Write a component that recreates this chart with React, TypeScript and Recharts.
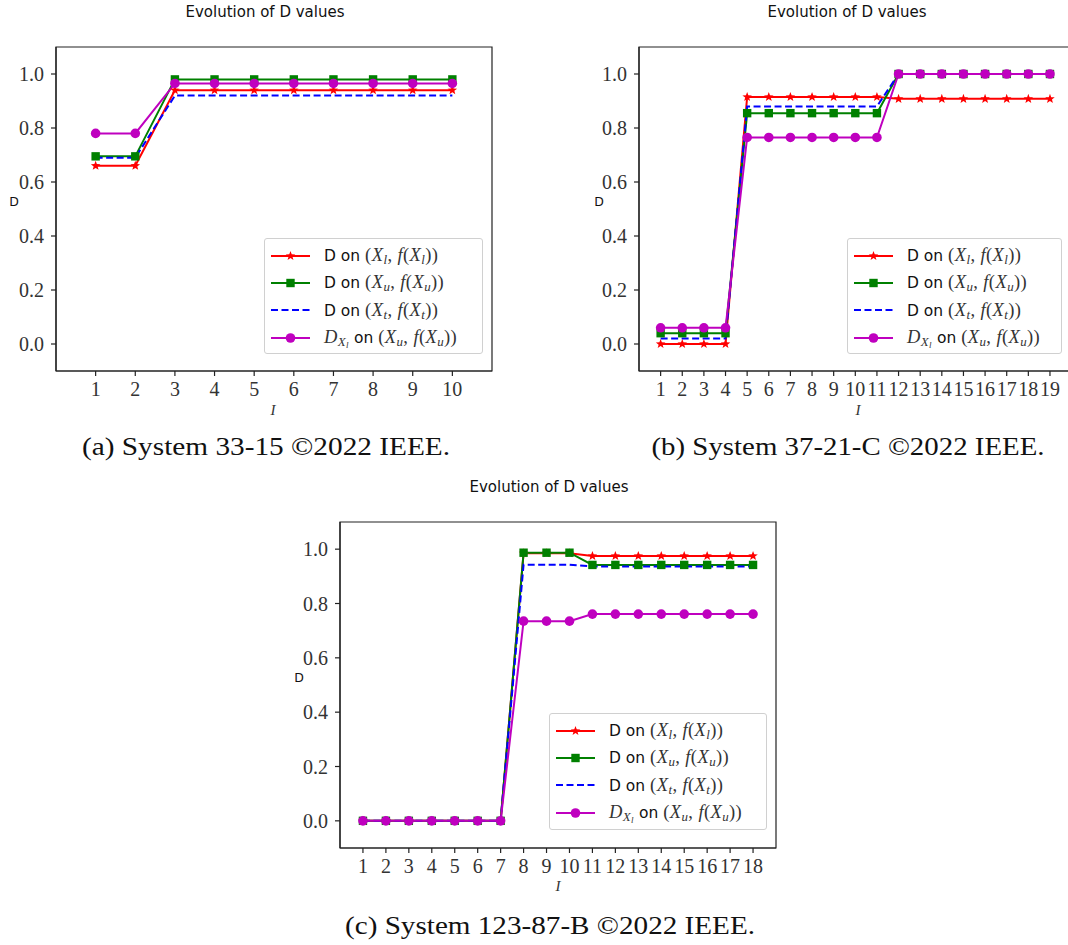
import React from "react";
import { LineChart, Line, XAxis, YAxis, Legend, ReferenceArea } from "recharts";

// (a) System 33-15
const iterA = [1, 2, 3, 4, 5, 6, 7, 8, 9, 10];
const aXl = [0.66, 0.66, 0.94, 0.94, 0.94, 0.94, 0.94, 0.94, 0.94, 0.94];
const aXu = [0.695, 0.695, 0.98, 0.98, 0.98, 0.98, 0.98, 0.98, 0.98, 0.98];
const aXt = [0.69, 0.69, 0.92, 0.92, 0.92, 0.92, 0.92, 0.92, 0.92, 0.92];
const aDxl = [0.78, 0.78, 0.965, 0.965, 0.965, 0.965, 0.965, 0.965, 0.965, 0.965];

// (b) System 37-21-C
const iterB = [1, 2, 3, 4, 5, 6, 7, 8, 9, 10, 11, 12, 13, 14, 15, 16, 17, 18, 19];
const bXl = [0, 0, 0, 0, 0.915, 0.915, 0.915, 0.915, 0.915, 0.915, 0.915, 0.908, 0.908, 0.908, 0.908, 0.908, 0.908, 0.908, 0.908];
const bXu = [0.04, 0.04, 0.04, 0.04, 0.855, 0.855, 0.855, 0.855, 0.855, 0.855, 0.855, 1, 1, 1, 1, 1, 1, 1, 1];
const bXt = [0.02, 0.02, 0.02, 0.02, 0.88, 0.88, 0.88, 0.88, 0.88, 0.88, 0.88, 1, 1, 1, 1, 1, 1, 1, 1];
const bDxl = [0.06, 0.06, 0.06, 0.06, 0.765, 0.765, 0.765, 0.765, 0.765, 0.765, 0.765, 1, 1, 1, 1, 1, 1, 1, 1];

// (c) System 123-87-B
const iterC = [1, 2, 3, 4, 5, 6, 7, 8, 9, 10, 11, 12, 13, 14, 15, 16, 17, 18];
const cXl = [0, 0, 0, 0, 0, 0, 0, 0.985, 0.985, 0.985, 0.975, 0.975, 0.975, 0.975, 0.975, 0.975, 0.975, 0.975];
const cXu = [0, 0, 0, 0, 0, 0, 0, 0.987, 0.987, 0.987, 0.942, 0.942, 0.942, 0.942, 0.942, 0.942, 0.942, 0.942];
const cXt = [0, 0, 0, 0, 0, 0, 0, 0.943, 0.943, 0.943, 0.936, 0.936, 0.936, 0.936, 0.936, 0.936, 0.936, 0.936];
const cDxl = [0, 0, 0, 0, 0, 0, 0, 0.735, 0.735, 0.735, 0.761, 0.761, 0.761, 0.761, 0.761, 0.761, 0.761, 0.761];

const yTicks = [0, 0.2, 0.4, 0.6, 0.8, 1.0];
const yDomain: [number, number] = [-0.1, 1.1];

const RED = "#ff0000";
const GREEN = "#008000";
const BLUE = "#0000ff";
const MAGENTA = "#bf00bf";
const AXIS = "#222";
const CM = "'Liberation Serif', 'DejaVu Serif', serif";
const SANS = "'DejaVu Sans', sans-serif";

const starPath = (cx: number, cy: number, R: number) => {
  const r = R * 0.42;
  let d = "";
  for (let k = 0; k < 10; k++) {
    const rad = k % 2 === 0 ? R : r;
    const a = -Math.PI / 2 + (k * Math.PI) / 5;
    d += (k === 0 ? "M" : "L") + (cx + rad * Math.cos(a)).toFixed(2) + "," + (cy + rad * Math.sin(a)).toFixed(2);
  }
  return d + "Z";
};

const starDot = (p: any) => <path key={"s" + p.index} d={starPath(p.cx, p.cy, 5)} fill={RED} />;
const squareDot = (p: any) => <rect key={"q" + p.index} x={p.cx - 4.2} y={p.cy - 4.2} width={8.4} height={8.4} fill={GREEN} />;
const circleDot = (p: any) => <circle key={"c" + p.index} cx={p.cx} cy={p.cy} r={4.8} fill={MAGENTA} />;

const Sub = ({ children }: { children: React.ReactNode }) => (
  <sub style={{ fontSize: "0.7em", verticalAlign: "-0.25em", lineHeight: 0 }}>{children}</sub>
);

const MATH = { fontFamily: CM, fontSize: 18.5, color: "#333", letterSpacing: 0.4 };

const pair = (s: string) => (
  <span style={MATH}>
    (<i>X</i><Sub><i>{s}</i></Sub>, <i>f</i>(<i>X</i><Sub><i>{s}</i></Sub>))
  </span>
);

const legendRows = [
  { color: RED, marker: "star", dash: false, label: <><span>D on </span>{pair("l")}</> },
  { color: GREEN, marker: "square", dash: false, label: <><span>D on </span>{pair("u")}</> },
  { color: BLUE, marker: "none", dash: true, label: <><span>D on </span>{pair("t")}</> },
  {
    color: MAGENTA,
    marker: "circle",
    dash: false,
    label: (
      <>
        <span style={MATH}>
          <i>D</i><Sub><i>X</i><Sub><i>l</i></Sub></Sub>
        </span>
        <span> on </span>
        {pair("u")}
      </>
    ),
  },
];

const LegendBox = () => (
  <div
    style={{
      background: "rgba(255,255,255,0.85)",
      border: "1px solid #d0d0d0",
      borderRadius: 3,
      boxSizing: "border-box",
      padding: "3px 0 0 6px",
      height: "100%",
      fontFamily: SANS,
      fontSize: 15.5,
      color: "#111",
    }}
  >
    {legendRows.map((r, i) => (
      <div key={i} style={{ display: "flex", alignItems: "center", height: 27.3, whiteSpace: "nowrap" }}>
        <svg width={40} height={14} style={{ flexShrink: 0, marginRight: 13 }}>
          <line x1={0} y1={7} x2={39} y2={7} stroke={r.color} strokeWidth={2} strokeDasharray={r.dash ? "7 3.5" : undefined} />
          {r.marker === "star" && <path d={starPath(19.5, 7, 5)} fill={r.color} />}
          {r.marker === "square" && <rect x={15.3} y={2.8} width={8.4} height={8.4} fill={r.color} />}
          {r.marker === "circle" && <circle cx={19.5} cy={7} r={4.8} fill={r.color} />}
        </svg>
        <span>{r.label}</span>
      </div>
    ))}
  </div>
);

type PanelProps = {
  iters: number[];
  xl: number[];
  xu: number[];
  xt: number[];
  dxl: number[];
  xMax: number;
  left: number;
  top: number;
  width: number;
  height: number;
  margin: { top: number; right: number; bottom: number; left: number };
  legend: { left: number; top: number; width: number; height: number };
};

function Panel(p: PanelProps) {
  const data = p.iters.map((it, i) => ({ it, xl: p.xl[i], xu: p.xu[i], xt: p.xt[i], dxl: p.dxl[i] }));
  return (
    <div style={{ position: "absolute", left: p.left, top: p.top }}>
      <LineChart width={p.width} height={p.height} data={data} margin={p.margin}>
        <XAxis
          dataKey="it"
          type="number"
          domain={[0, p.xMax]}
          ticks={p.iters}
          interval={0}
          allowDataOverflow
          height={30}
          stroke={AXIS}
          strokeWidth={1.2}
          tickSize={5}
          tickMargin={6}
          tick={{ fontFamily: CM, fontSize: 20, fill: "#333" }}
        />
        <YAxis
          type="number"
          domain={yDomain}
          ticks={yTicks}
          interval={0}
          allowDataOverflow
          width={40}
          stroke={AXIS}
          strokeWidth={1.2}
          tickSize={5}
          tickMargin={7}
          tickFormatter={(v: number) => v.toFixed(1)}
          tick={{ fontFamily: CM, fontSize: 20, fill: "#333" }}
        />
        {/* axes frame */}
        <ReferenceArea x1={0} x2={p.xMax} y1={yDomain[0]} y2={yDomain[1]} fill="none" fillOpacity={0} stroke={AXIS} strokeWidth={1.2} strokeOpacity={1} ifOverflow="visible" />
        <Legend
          layout="vertical"
          align="center"
          verticalAlign="middle"
          content={() => <LegendBox />}
          wrapperStyle={{ left: p.legend.left, top: p.legend.top, width: p.legend.width, height: p.legend.height, margin: 0 }}
        />
        <Line dataKey="xl" stroke={RED} strokeWidth={2} dot={starDot} activeDot={false} isAnimationActive={false} />
        <Line dataKey="xu" stroke={GREEN} strokeWidth={2} dot={squareDot} activeDot={false} isAnimationActive={false} />
        <Line dataKey="xt" stroke={BLUE} strokeWidth={2} strokeDasharray="7 3.5" dot={false} activeDot={false} isAnimationActive={false} />
        <Line dataKey="dxl" stroke={MAGENTA} strokeWidth={2} dot={circleDot} activeDot={false} isAnimationActive={false} />
      </LineChart>
    </div>
  );
}

const TITLE = "Evolution of D values";

export default function App() {
  return (
    <div style={{ position: "absolute", left: 0, top: 0, width: 1068, height: 945, overflow: "hidden", background: "#fff" }}>
      <Panel
        iters={iterA} xl={aXl} xu={aXu} xt={aXt} dxl={aDxl} xMax={11}
        left={0} top={0} width={500} height={420}
        margin={{ top: 47, right: 8, bottom: 19, left: 16 }}
        legend={{ left: 264, top: 238, width: 219, height: 116 }}
      />
      <Panel
        iters={iterB} xl={bXl} xu={bXu} xt={bXt} dxl={bDxl} xMax={20}
        left={540} top={0} width={540} height={420}
        margin={{ top: 47, right: 8.4, bottom: 19, left: 59 }}
        legend={{ left: 307, top: 238, width: 215, height: 116 }}
      />
      <Panel
        iters={iterC} xl={cXl} xu={cXu} xt={cXt} dxl={cDxl} xMax={19}
        left={280} top={470} width={500} height={420}
        margin={{ top: 52, right: 4, bottom: 12, left: 20 }}
        legend={{ left: 269, top: 243, width: 218, height: 117 }}
      />
      <svg width={1068} height={945} style={{ position: "absolute", left: 0, top: 0, pointerEvents: "none" }}>
        <g fontFamily={SANS} fontSize={15} fill="#111" textAnchor="middle">
          <text x={265} y={16.5}>{TITLE}</text>
          <text x={847} y={16.5}>{TITLE}</text>
          <text x={549} y={491.5}>{TITLE}</text>
        </g>
        <g fontFamily={SANS} fontSize={12.5} fill="#111" textAnchor="middle">
          <text x={14} y={205.5}>D</text>
          <text x={599} y={205.5}>D</text>
          <text x={299} y={681.5}>D</text>
        </g>
        <g fontFamily={CM} fontSize={15} fontStyle="italic" fill="#333" textAnchor="middle">
          <text x={273} y={415}>I</text>
          <text x={858} y={415}>I</text>
          <text x={558} y={890.5}>I</text>
        </g>
        <g fontFamily="'Liberation Serif', 'Times New Roman', serif" fontSize={26} fill="#111" textAnchor="middle">
          <text x={266} y={455} textLength={368} lengthAdjust="spacingAndGlyphs">(a) System 33-15 ©2022 IEEE.</text>
          <text x={848} y={455} textLength={393} lengthAdjust="spacingAndGlyphs">(b) System 37-21-C ©2022 IEEE.</text>
          <text x={550} y={934} textLength={410} lengthAdjust="spacingAndGlyphs">(c) System 123-87-B ©2022 IEEE.</text>
        </g>
      </svg>
    </div>
  );
}
